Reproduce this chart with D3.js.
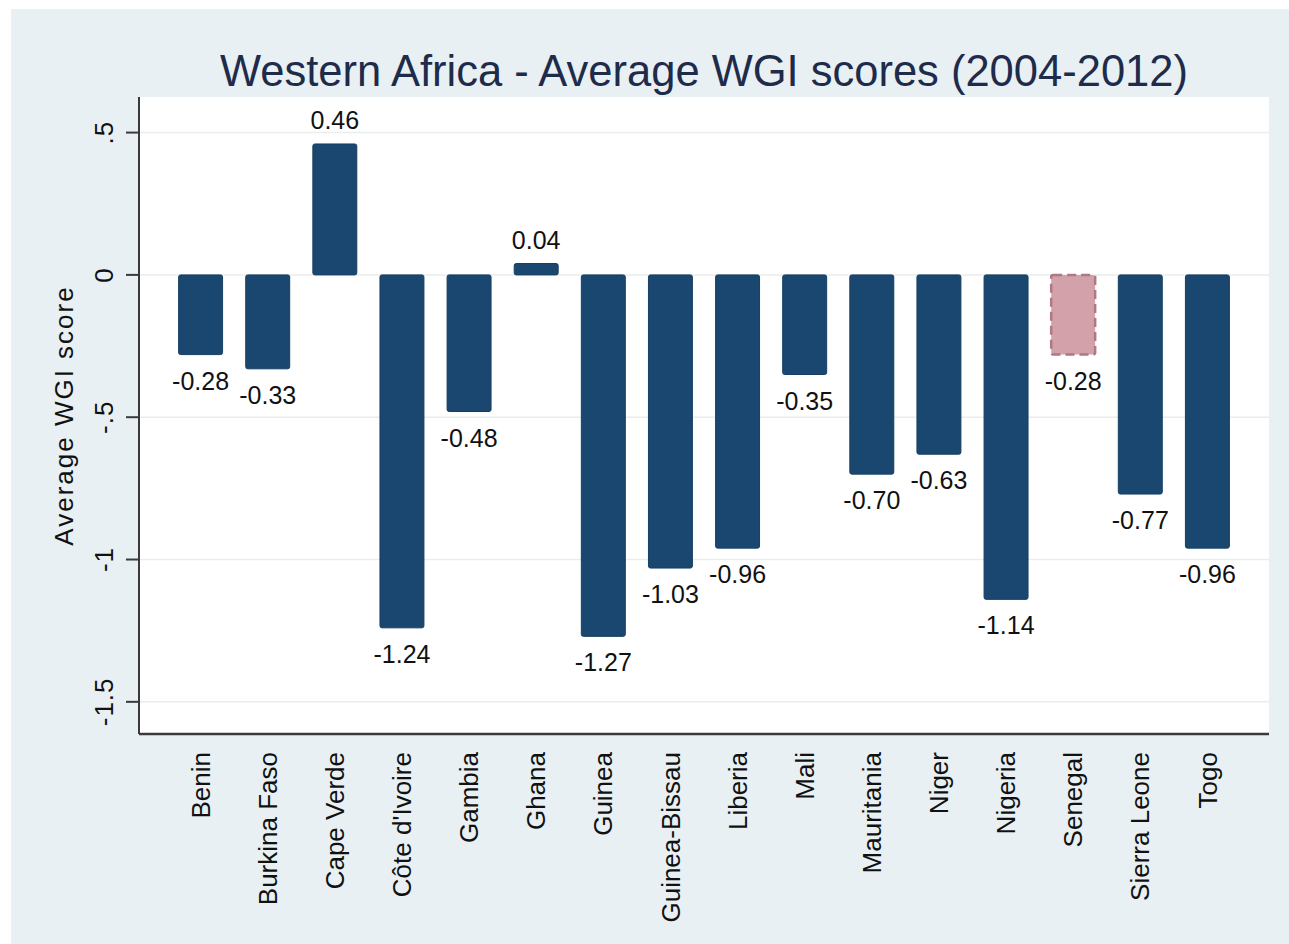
<!DOCTYPE html>
<html>
<head>
  <meta charset="utf-8">
  <title>Western Africa - Average WGI scores</title>
  <script src="https://cdn.jsdelivr.net/npm/d3@7"></script>
  <style>
    html, body { margin: 0; padding: 0; background: #ffffff; }
    svg text { font-family: "Liberation Sans", Arial, Helvetica, sans-serif; }
  </style>
</head>
<body>
  <svg id="chart" width="1289" height="944"></svg>
  <script>
    // data
    var countries = ["Benin", "Burkina Faso", "Cape Verde", "Côte d'Ivoire", "Gambia", "Ghana",
      "Guinea", "Guinea-Bissau", "Liberia", "Mali", "Mauritania", "Niger", "Nigeria",
      "Senegal", "Sierra Leone", "Togo"];
    var scores = [-0.28, -0.33, 0.46, -1.24, -0.48, 0.04, -1.27, -1.03, -0.96, -0.35,
      -0.70, -0.63, -1.14, -0.28, -0.77, -0.96];
    var highlighted = ["Senegal"];
    var yTicks = [0.5, 0, -0.5, -1, -1.5];
    var yTickLabels = [".5", "0", "-.5", "-1", "-1.5"];

    var svg = d3.select("#chart");

    var plot = { left: 139, right: 1269, top: 97, bottom: 734 };

    // outer graph region
    svg.append("rect")
      .attr("x", 11).attr("y", 9)
      .attr("width", 1289 - 11).attr("height", 944 - 9)
      .attr("fill", "#e8f0f3");

    svg.append("rect")
      .attr("x", plot.left).attr("y", plot.top)
      .attr("width", plot.right - plot.left).attr("height", plot.bottom - plot.top)
      .attr("fill", "#ffffff");

    var x = d3.scaleBand()
      .domain(countries)
      .range([plot.left, plot.right])
      .paddingInner(0.345)
      .paddingOuter(0.59);

    var y = d3.scaleLinear()
      .domain([-1.613, 0.625])
      .range([plot.bottom, plot.top]);

    // hyphen minus like the original, not the unicode minus
    var fmt = function (v) { return d3.format(".2f")(v).replace("\u2212", "-"); };

    // gridlines
    svg.append("g").selectAll("line")
      .data(yTicks)
      .join("line")
      .attr("x1", plot.left).attr("x2", plot.right)
      .attr("y1", function (d) { return y(d); })
      .attr("y2", function (d) { return y(d); })
      .attr("stroke", "#eaeded")
      .attr("stroke-width", 1.5);

    var data = countries.map(function (c, i) { return { name: c, value: scores[i] }; });

    // bars
    svg.append("g").selectAll("rect")
      .data(data)
      .join("rect")
      .attr("x", function (d) { return x(d.name); })
      .attr("width", x.bandwidth())
      .attr("y", function (d) { return y(Math.max(0, d.value)); })
      .attr("height", function (d) { return Math.abs(y(d.value) - y(0)); })
      .attr("rx", 2)
      .attr("fill", function (d) { return highlighted.includes(d.name) ? "#d3a1a9" : "#1a476f"; })
      .attr("stroke", function (d) { return highlighted.includes(d.name) ? "#b07882" : "#163f63"; })
      .attr("stroke-width", function (d) { return highlighted.includes(d.name) ? 2.5 : 1; })
      .attr("stroke-dasharray", function (d) { return highlighted.includes(d.name) ? "9,5" : null; });

    // bar value labels
    svg.append("g").selectAll("text")
      .data(data)
      .join("text")
      .attr("x", function (d) { return x(d.name) + x.bandwidth() / 2; })
      .attr("y", function (d) { return d.value >= 0 ? y(d.value) - 15 : y(d.value) + 35; })
      .attr("text-anchor", "middle")
      .attr("font-size", 25)
      .attr("fill", "#111")
      .text(function (d) { return fmt(d.value); });

    // y axis
    var yAxis = svg.append("g");
    yAxis.append("line")
      .attr("x1", plot.left).attr("x2", plot.left)
      .attr("y1", plot.top).attr("y2", plot.bottom)
      .attr("stroke", "#3a3a3a").attr("stroke-width", 2);
    yAxis.selectAll("line.tick")
      .data(yTicks)
      .join("line")
      .attr("class", "tick")
      .attr("x1", plot.left - 13).attr("x2", plot.left)
      .attr("y1", function (d) { return y(d); })
      .attr("y2", function (d) { return y(d); })
      .attr("stroke", "#3a3a3a").attr("stroke-width", 2);
    yAxis.selectAll("text")
      .data(yTicks)
      .join("text")
      .attr("transform", function (d) { return "translate(113," + y(d) + ") rotate(-90)"; })
      .attr("text-anchor", "middle")
      .attr("font-size", 26)
      .attr("letter-spacing", 1)
      .attr("fill", "#111")
      .text(function (d, i) { return yTickLabels[i]; });

    // x axis
    svg.append("line")
      .attr("x1", plot.left).attr("x2", plot.right)
      .attr("y1", plot.bottom).attr("y2", plot.bottom)
      .attr("stroke", "#3a3a3a").attr("stroke-width", 2.5);

    svg.append("g").selectAll("text")
      .data(countries)
      .join("text")
      .attr("transform", function (d) {
        return "translate(" + (x(d) + x.bandwidth() / 2) + ",752) rotate(-90)";
      })
      .attr("text-anchor", "end")
      .attr("dy", "0.35em")
      .attr("font-size", 26)
      .attr("fill", "#111")
      .text(function (d) { return d; });

    // axis title
    svg.append("text")
      .attr("transform", "translate(73," + ((plot.top + plot.bottom) / 2) + ") rotate(-90)")
      .attr("text-anchor", "middle")
      .attr("font-size", 26)
      .attr("letter-spacing", 2)
      .attr("fill", "#111")
      .text("Average WGI score");

    // title
    svg.append("text")
      .attr("x", (plot.left + plot.right) / 2)
      .attr("y", 86)
      .attr("text-anchor", "middle")
      .attr("font-size", 43.5)
      .attr("fill", "#1e2b4b")
      .text("Western Africa - Average WGI scores (2004-2012)");
  </script>
</body>
</html>
